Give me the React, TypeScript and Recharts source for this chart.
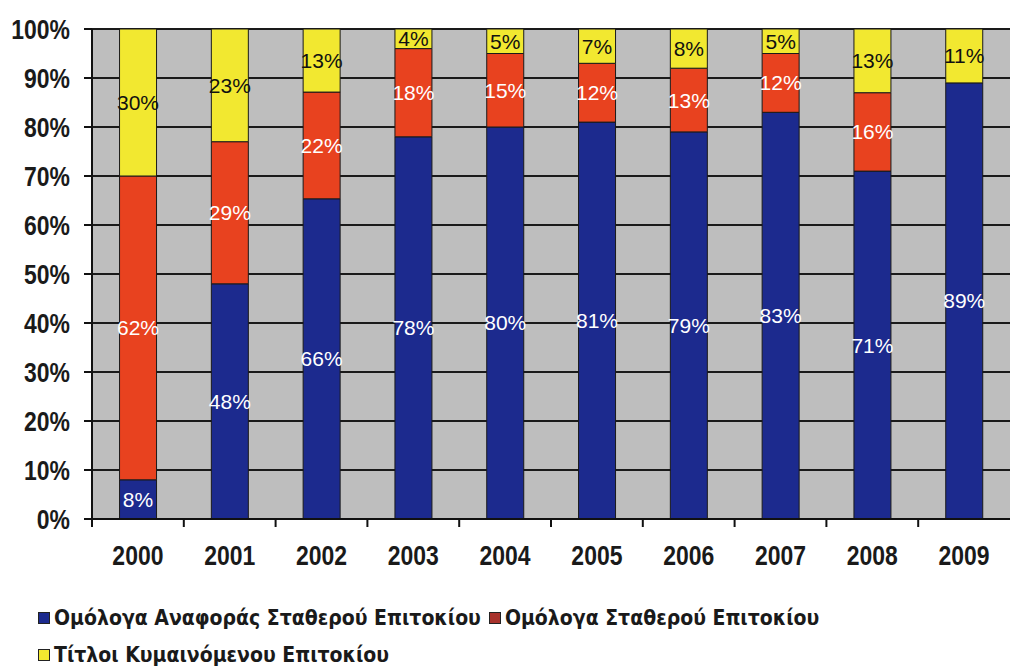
import { Bar, BarChart, CartesianGrid, LabelList, Legend, XAxis, YAxis } from 'recharts'

const years = ['2000', '2001', '2002', '2003', '2004', '2005', '2006', '2007', '2008', '2009']
const benchmarkFixed = [8, 48, 66, 78, 80, 81, 79, 83, 71, 89]
const fixedRate = [62, 29, 22, 18, 15, 12, 13, 12, 16, 0]
const floatingRate = [30, 23, 13, 4, 5, 7, 8, 5, 13, 11]
const yTicks = [0, 0.1, 0.2, 0.3, 0.4, 0.5, 0.6, 0.7, 0.8, 0.9, 1]

const series = [
  { key: 'benchmark', name: 'Ομόλογα Αναφοράς Σταθερού Επιτοκίου', color: '#1C2A8E', swatch: '#1C2A8E', text: '#ffffff' },
  { key: 'fixed', name: 'Ομόλογα Σταθερού Επιτοκίου', color: '#E8421F', swatch: '#A8322C', text: '#ffffff' },
  { key: 'floating', name: 'Τίτλοι Κυμαινόμενου Επιτοκίου', color: '#F2E830', swatch: '#F2E830', text: '#111111' },
]

const data = years.map((year, i) => ({
  year,
  benchmark: benchmarkFixed[i],
  fixed: fixedRate[i],
  floating: floatingRate[i],
}))

const W = 1010
const H = 670
const Y_AXIS_W = 92
const BAND = (W - Y_AXIS_W) / years.length
const AXIS_FONT = "'Liberation Sans', Arial, sans-serif"
const LEGEND_FONT = "'DejaVu Sans Condensed', 'DejaVu Sans', sans-serif"

// narrow bold look: Liberation Sans Bold squeezed horizontally
function NarrowText({ x, y, anchor, children }: any) {
  return (
    <text
      transform={`translate(${x},${y}) scale(0.82,1)`}
      textAnchor={anchor}
      dy="0.36em"
      fontFamily={AXIS_FONT}
      fontWeight={700}
      fontSize={28}
      fill="#1a1a1a"
    >
      {children}
    </text>
  )
}

function YearTick({ x, y, payload }: any) {
  return (
    <g>
      <line x1={x - BAND / 2} x2={x - BAND / 2} y1={y} y2={y + 8} stroke="#111" strokeWidth={2} />
      <NarrowText x={x} y={y + 36} anchor="middle">
        {payload.value}
      </NarrowText>
    </g>
  )
}

function PercentTick({ x, y, payload }: any) {
  return (
    <NarrowText x={x} y={y} anchor="end">
      {`${Math.round(payload.value * 100)}%`}
    </NarrowText>
  )
}

function LegendBox() {
  return (
    <div
      style={{
        display: 'flex',
        flexWrap: 'wrap',
        width: 820,
        marginLeft: 38,
        rowGap: 13,
        columnGap: 8,
        fontFamily: LEGEND_FONT,
        fontWeight: 700,
        fontSize: 21,
        color: '#1a1a1a',
      }}
    >
      {series.map((s) => (
        <div key={s.key} style={{ display: 'flex', alignItems: 'center', gap: 4, lineHeight: '24px' }}>
          <span
            style={{
              width: 10,
              height: 10,
              background: s.swatch,
              border: '1px solid #222',
              display: 'inline-block',
            }}
          />
          <span>{s.name}</span>
        </div>
      ))}
    </div>
  )
}

const pct = (v: any) => (v ? `${v}%` : '')

export default function App() {
  return (
    <div style={{ position: 'absolute', left: 0, top: 0, width: W, height: H, background: '#fff', overflow: 'hidden' }}>
      <BarChart
        width={W}
        height={H}
        data={data}
        stackOffset="expand"
        barCategoryGap="30%"
        margin={{ top: 29, right: 0, bottom: 0, left: 0 }}
      >
        <CartesianGrid vertical={false} fill="#BEBEBE" stroke="#1a1a1a" strokeWidth={1.8} horizontalValues={yTicks} />
        <XAxis
          dataKey="year"
          height={60}
          tickLine={false}
          tickSize={0}
          tickMargin={0}
          axisLine={{ stroke: '#111', strokeWidth: 2 }}
          tick={<YearTick />}
          interval={0}
        />
        <YAxis
          width={Y_AXIS_W}
          domain={[0, 1]}
          ticks={yTicks}
          tickSize={8}
          tickMargin={14}
          axisLine={{ stroke: '#111', strokeWidth: 2 }}
          tickLine={{ stroke: '#111', strokeWidth: 2 }}
          tick={<PercentTick />}
        />
        <Legend
          verticalAlign="bottom"
          align="left"
          wrapperStyle={{ height: 91, paddingTop: 27, boxSizing: 'border-box' }}
          content={<LegendBox />}
        />
        {series.map((s) => (
          <Bar
            key={s.key}
            dataKey={s.key}
            name={s.name}
            stackId="share"
            fill={s.color}
            stroke="#1a1a1a"
            strokeWidth={1}
            isAnimationActive={false}
          >
            <LabelList
              dataKey={s.key}
              position="center"
              formatter={pct}
              fill={s.text}
              fontFamily={AXIS_FONT}
              fontSize={21}
            />
          </Bar>
        ))}
      </BarChart>
    </div>
  )
}
